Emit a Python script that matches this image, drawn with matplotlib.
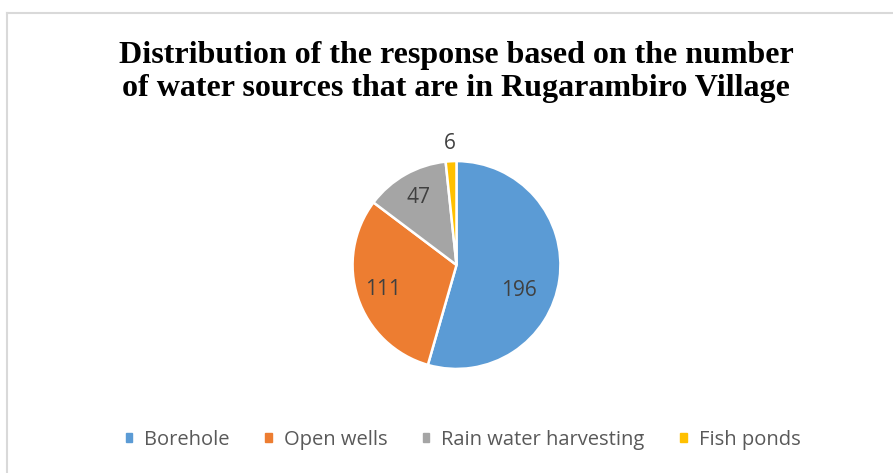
import matplotlib.pyplot as plt
import numpy as np

sources = ["Borehole", "Open wells", "Rain water harvesting", "Fish ponds"]
responses = [196, 111, 47, 6]
colors = ["#5B9BD5", "#ED7D31", "#A5A5A5", "#FFC000"]

W, H = 893, 473
fig = plt.figure(figsize=(W / 100, H / 100), dpi=100)

# chart area frame (only top and left edges visible)
fig.add_artist(plt.Line2D([7 / W, 7 / W], [0, 1 - 13.5 / H], color="#D9D9D9", lw=1.5,
                          transform=fig.transFigure))
fig.add_artist(plt.Line2D([7 / W, 1], [1 - 13.5 / H, 1 - 13.5 / H], color="#D9D9D9", lw=1.5,
                          transform=fig.transFigure))

fig.text(456 / W, 1 - 72 / H,
         "Distribution of the response based on the number\nof water sources that are in Rugarambiro Village",
         ha="center", va="center", family="Liberation Serif", weight="bold",
         fontsize=23, linespacing=1.2, color="black")

cx, cy, r = 456.5, 265, 104
ax = fig.add_axes([(cx - r - 2) / W, (H - cy - r - 2) / H, (2 * r + 4) / W, (2 * r + 4) / H])
wedges, _ = ax.pie(responses, colors=colors, startangle=90, counterclock=False,
                   radius=1, wedgeprops=dict(edgecolor="white", linewidth=1.8))
ax.set_xlim(-1.02, 1.02)
ax.set_ylim(-1.02, 1.02)
ax.set_aspect("equal")
ax.axis("off")

# data labels: inside the slices, the small one just outside
for i, (w, v) in enumerate(zip(wedges, responses)):
    ang = np.deg2rad((w.theta1 + w.theta2) / 2)
    dist = 0.75
    if v == max(responses):
        ang = np.deg2rad(-22.6)
        dist = 0.65
    if v < 20:
        dist = 1.17
    ax.text(dist * np.cos(ang), dist * np.sin(ang), str(v), ha="center", va="center",
            family="Open Sans", fontsize=15, color="#404040")

handles = [plt.Rectangle((0, 0), 1, 1, color=c) for c in colors]
leg = fig.legend(handles, sources, loc="center", bbox_to_anchor=(463 / W, 1 - 440 / H),
                 ncol=4, frameon=False, handlelength=0.33, handleheight=0.33,
                 handletextpad=0.6, columnspacing=1.75,
                 prop=dict(family="Open Sans", size=14.5))
for t in leg.get_texts():
    t.set_color("#595959")

fig.savefig("out.png", dpi=100, facecolor="white")
